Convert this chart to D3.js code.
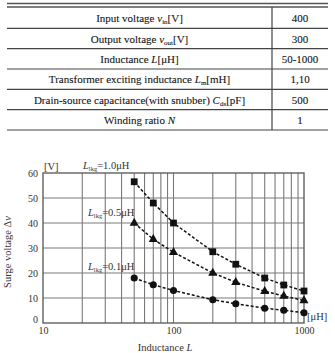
<!DOCTYPE html>
<html><head><meta charset="utf-8">
<script src="https://cdn.jsdelivr.net/npm/d3@7/dist/d3.min.js"></script>
<style>body{margin:0;background:#fff}svg{display:block;font-family:"Liberation Serif","DejaVu Serif",serif}</style>
</head><body>
<svg id="c" width="335" height="353"></svg>
<script>
// Table data
const paramNames = [
  [{t:"Input voltage "},{t:"v",i:1},{t:"in",s:1},{t:"[V]"}],
  [{t:"Output voltage "},{t:"v",i:1},{t:"out",s:1},{t:"[V]"}],
  [{t:"Inductance "},{t:"L",i:1},{t:"[μH]"}],
  [{t:"Transformer exciting inductance "},{t:"L",i:1},{t:"m",s:1},{t:"[mH]"}],
  [{t:"Drain-source capacitance(with snubber) "},{t:"C",i:1},{t:"ds",s:1},{t:"[pF]"}],
  [{t:"Winding ratio "},{t:"N",i:1}]
];
const paramValues = ["400","300","50-1000","1,10","500","1"];

// Chart data
const inductance = [50,70,100,200,300,500,700,1000];
const surge10 = [56.5,48,40,28.5,23.5,18,15.2,12.8];
const surge05 = [40,33.5,28.3,20,16.3,12.7,10.8,9];
const surge01 = [18,15.3,13,9.3,7.7,5.9,5.1,4.1];
const seriesLabels = ["=1.0μH","=0.5μH","=0.1μH"];
const yTicks = [0,10,20,30,40,50,60];
const xTicks = [10,100,1000];

const svg = d3.select("#c");

// ---- Table ----
const tLeft=7, tRight=328, tDiv=272, tTop=8, tBottom=130;
const rowY = d3.scaleLinear().domain([0,6]).range([tTop,tBottom]);
const tg = svg.append("g");
tg.append("line").attr("x1",tLeft).attr("x2",tRight).attr("y1",3.5).attr("y2",3.5).attr("stroke","#555").attr("stroke-width",1.3);
tg.append("line").attr("x1",tLeft).attr("x2",tRight).attr("y1",7).attr("y2",7).attr("stroke","#555").attr("stroke-width",1.3);
for(let i=1;i<=6;i++){
  tg.append("line").attr("x1",tLeft).attr("x2",tRight).attr("y1",rowY(i)).attr("y2",rowY(i)).attr("stroke","#444").attr("stroke-width",1.2);
}
tg.append("line").attr("x1",tDiv).attr("x2",tDiv).attr("y1",7).attr("y2",tBottom).attr("stroke","#444").attr("stroke-width",1.2);
paramNames.forEach((parts,i)=>{
  const y = (rowY(i)+rowY(i+1))/2+4;
  const t = tg.append("text").attr("x",(tLeft+tDiv)/2).attr("y",y).attr("text-anchor","middle").attr("font-size",11)
    .attr("fill","#151515").attr("stroke","#151515").attr("stroke-width",0.1);
  let inSub=false;
  parts.forEach(p=>{
    const ts=t.append("tspan").text(p.t);
    if(p.i) ts.attr("font-style","italic");
    if(p.s){ ts.attr("font-size",7).attr("dy",2); inSub=true; }
    else if(inSub){ ts.attr("dy",-2); inSub=false; }
  });
  tg.append("text").attr("x",(tDiv+tRight)/2).attr("y",y).attr("text-anchor","middle").attr("font-size",11)
    .attr("fill","#151515").attr("stroke","#151515").attr("stroke-width",0.1).text(paramValues[i]);
});

// ---- Chart ----
const L=43, R=304, T=173, B=323;
const x = d3.scaleLog().domain([10,1000]).range([L,R]);
const y = d3.scaleLinear().domain([0,60]).range([B,T]);
const g = svg.append("g");

// grid
const vGrid = [];
for(let d=10; d<=100; d*=10){ for(let k=2;k<=9;k++) vGrid.push(k*d); }
vGrid.push(100);
g.selectAll(".vg").data(vGrid).join("line").attr("x1",d=>x(d)).attr("x2",d=>x(d)).attr("y1",T).attr("y2",B).attr("stroke","#7a7a7a").attr("stroke-width",1.1);
g.selectAll(".hg").data(yTicks.slice(1,-1)).join("line").attr("x1",L).attr("x2",R).attr("y1",d=>y(d)).attr("y2",d=>y(d)).attr("stroke","#7a7a7a").attr("stroke-width",1.1);
g.append("rect").attr("x",L).attr("y",T).attr("width",R-L).attr("height",B-T).attr("fill","none").attr("stroke","#555").attr("stroke-width",1.3);

// axes labels
const yAxis = d3.axisLeft(y).tickValues(yTicks).tickSize(0).tickPadding(5);
const ya = g.append("g").attr("transform",`translate(${L},0)`).call(yAxis);
ya.select(".domain").remove();
ya.selectAll("text").attr("font-family","Liberation Serif, serif").attr("font-size",10).attr("fill","#333");
ya.selectAll(".tick").filter(d=>d===0).select("text").attr("dy","-0.1em");
const xAxis = d3.axisBottom(x).tickValues(xTicks).tickFormat(d3.format("d")).tickSize(0).tickPadding(4);
const xa = g.append("g").attr("transform",`translate(0,${B})`).call(xAxis);
xa.select(".domain").remove();
xa.selectAll("text").attr("font-family","Liberation Serif, serif").attr("font-size",10).attr("fill","#333");

g.append("text").attr("x",L+1).attr("y",T-3).attr("font-size",10.5).attr("fill","#333").text("[V]");
g.append("text").attr("x",R+3).attr("y",B-3).attr("font-size",10.5).attr("fill","#333").text("[μH]");
g.append("text").attr("x",165).attr("y",351).attr("text-anchor","middle").attr("font-size",10.5).attr("fill","#333")
  .call(t=>{t.append("tspan").text("Inductance ");t.append("tspan").attr("font-style","italic").text("L");});
g.append("text").attr("transform",`translate(11,${(T+B)/2+4}) rotate(-90)`).attr("text-anchor","middle").attr("font-size",10.5).attr("fill","#333")
  .call(t=>{t.append("tspan").text("Surge voltage Δ");t.append("tspan").attr("font-style","italic").text("v");});

// series
const series = [
  {vals:surge10, shape:"square", lx:83, ly:169},
  {vals:surge05, shape:"triangle", lx:88, ly:216},
  {vals:surge01, shape:"circle", lx:88, ly:270}
];
const line = d3.line().x(d=>x(d[0])).y(d=>y(d[1]));
series.forEach((s,si)=>{
  const pts = inductance.map((v,i)=>[v,s.vals[i]]);
  g.append("path").attr("d",line(pts)).attr("fill","none").attr("stroke","#111").attr("stroke-width",1.5).attr("stroke-dasharray","3,2");
  const sym = s.shape==="square"?d3.symbolSquare:(s.shape==="triangle"?d3.symbolTriangle:d3.symbolCircle);
  const size = s.shape==="square"?46:(s.shape==="triangle"?36:40);
  g.selectAll(null).data(pts).join("path").attr("d",d3.symbol(sym,size)).attr("transform",d=>`translate(${x(d[0])},${y(d[1])})`).attr("fill","#111");
  const t = g.append("text").attr("x",s.lx).attr("y",s.ly).attr("font-size",10.5).attr("fill","#333");
  t.append("tspan").attr("font-style","italic").text("L");
  t.append("tspan").attr("font-size",6.5).attr("dy",2).text("lkg");
  t.append("tspan").attr("dy",-2).text(seriesLabels[si]);
});
</script>
</body></html>
